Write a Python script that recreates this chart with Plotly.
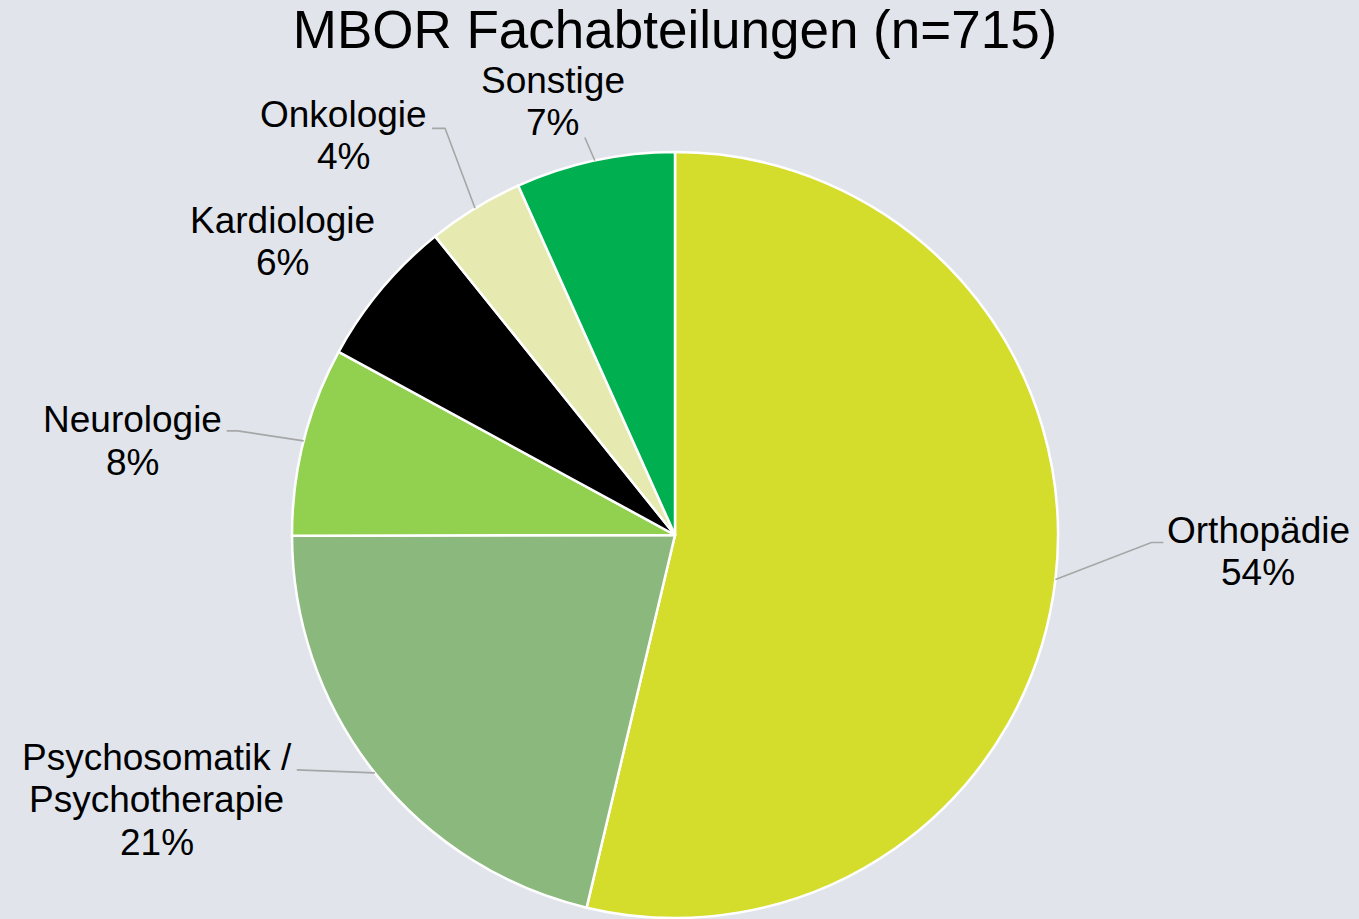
import math
import plotly.graph_objects as go

# ---- data ----
TITLE = "MBOR Fachabteilungen (n=715)"
categories = ["Orthopädie", "Psychosomatik /<br>Psychotherapie", "Neurologie",
              "Kardiologie", "Onkologie", "Sonstige"]
counts = [384, 152, 57, 45, 29, 48]

# ---- style / layout ----
colors = ["#D4DC2C", "#8BB87C", "#92D050", "#000000", "#E6EAB0", "#00B050"]
BG = "#E1E5EB"
W, H = 1359, 919
CX, CY, R = 675, 535, 383          # pie centre / radius in px
LABEL_SIZE = 37
LINE_H = 42.5
# label-block centre offsets (px) from each slice's outer edge midpoint
label_offsets = [(203, -28), (-218, 27), (-171, 0), (-99, -48), (-132, -73), (-42, -59)]
# leader-line vertices (px) relative to the slice's outer edge midpoint
leader_paths = [
    [(0, 0), (96, -37), (108, -37)],
    [(0, 0), (-78, -3)],
    [(0, 0), (-66, -10), (-77, -10)],
    [],
    [(0, 0), (-30, -80), (-43, -80)],
    [(0, 0), (-10, -23)],
]
FONT = "Liberation Sans, Arial, sans-serif"

fig = go.Figure(go.Pie(
    labels=categories, values=counts, sort=False, direction="clockwise", rotation=0,
    marker=dict(colors=colors, line=dict(color="white", width=2.5)),
    textinfo="none", hoverinfo="label+percent", showlegend=False,
    domain=dict(x=[(CX - R) / W, (CX + R) / W], y=[1 - (CY + R) / H, 1 - (CY - R) / H]),
))


def to_paper(px, py):
    return px / W, 1 - py / H


total = sum(counts)
cum = 0
annotations = []
shapes = []
for lab, v, off, path in zip(categories, counts, label_offsets, leader_paths):
    mid = (cum + v / 2) / total * 2 * math.pi
    cum += v
    ex = CX + R * math.sin(mid)
    ey = CY - R * math.cos(mid)
    pct = round(v / total * 100)
    lines = lab.split("<br>") + [f"{pct}%"]
    n = len(lines)
    lx, ly = ex + off[0], ey + off[1]
    for i, t in enumerate(lines):
        x, y = to_paper(lx, ly + (i - (n - 1) / 2) * LINE_H)
        annotations.append(dict(
            x=x, y=y, xref="paper", yref="paper", text=t, showarrow=False,
            xanchor="center", yanchor="middle",
            font=dict(size=LABEL_SIZE, color="black", family=FONT),
        ))
    if path:
        pts = [to_paper(ex + dx, ey + dy) for dx, dy in path]
        d = "M " + " L ".join(f"{x:.5f},{y:.5f}" for x, y in pts)
        shapes.append(dict(type="path", path=d, xref="paper", yref="paper",
                           line=dict(color="#A6A6A6", width=1.6)))

fig.update_layout(
    width=W, height=H, paper_bgcolor=BG, plot_bgcolor=BG,
    margin=dict(l=0, r=0, t=0, b=0),
    title=dict(text=TITLE, x=0.4967, xanchor="center", y=0.988, yanchor="top",
               font=dict(size=53, color="black", family=FONT)),
    annotations=annotations,
    shapes=shapes,
)
fig.write_html("out.html", config={"displayModeBar": False},
               post_script="document.body.style.margin='0';document.body.style.background='%s';" % BG)
